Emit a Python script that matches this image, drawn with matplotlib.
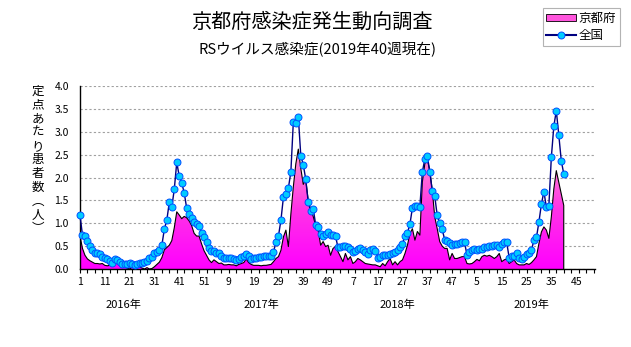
import numpy as np
import matplotlib
matplotlib.use('Agg')
import matplotlib.pyplot as plt
import matplotlib.transforms as mtransforms
from matplotlib.colors import LinearSegmentedColormap
from matplotlib.lines import Line2D
from matplotlib.patches import Patch

plt.rcParams['font.family'] = ['Noto Sans CJK JP', 'DejaVu Sans']

# ---- data (weekly values per sentinel site) ----
national_2016 = [1.17, 0.74, 0.72, 0.62, 0.50, 0.41, 0.36, 0.34, 0.32, 0.27, 0.24, 0.21, 0.17,
                 0.14, 0.22, 0.20, 0.16, 0.12, 0.10, 0.12, 0.14, 0.10, 0.09, 0.11, 0.14, 0.14,
                 0.16, 0.18, 0.23, 0.26, 0.34, 0.38, 0.41, 0.52, 0.87, 1.07, 1.46, 1.35, 1.74,
                 2.33, 2.03, 1.88, 1.67, 1.33, 1.20, 1.11, 1.03, 0.98, 0.93, 0.79, 0.71, 0.59]
national_2017 = [0.46, 0.39, 0.39, 0.36, 0.35, 0.29, 0.24, 0.23, 0.25, 0.25, 0.22, 0.20, 0.22,
                 0.26, 0.29, 0.33, 0.29, 0.22, 0.25, 0.25, 0.26, 0.27, 0.28, 0.29, 0.29, 0.29,
                 0.37, 0.59, 0.72, 1.07, 1.57, 1.65, 1.77, 2.12, 3.22, 3.20, 3.33, 2.48, 2.28,
                 1.96, 1.46, 1.27, 1.32, 0.97, 0.91, 0.76, 0.72, 0.77, 0.80, 0.75, 0.75, 0.72]
national_2018 = [0.47, 0.47, 0.51, 0.51, 0.47, 0.43, 0.38, 0.39, 0.43, 0.46, 0.41, 0.38, 0.33,
                 0.41, 0.43, 0.40, 0.25, 0.27, 0.30, 0.31, 0.31, 0.33, 0.36, 0.38, 0.41, 0.47,
                 0.55, 0.73, 0.79, 0.98, 1.34, 1.37, 1.37, 1.36, 2.12, 2.40, 2.47, 2.13, 1.71,
                 1.59, 1.17, 1.00, 0.87, 0.64, 0.61, 0.56, 0.52, 0.54, 0.55, 0.57, 0.58, 0.58]
national_2019 = [0.31, 0.38, 0.42, 0.44, 0.42, 0.44, 0.43, 0.47, 0.49, 0.50, 0.50, 0.52, 0.52,
                 0.47, 0.55, 0.60, 0.58, 0.25, 0.28, 0.29, 0.34, 0.23, 0.21, 0.27, 0.32, 0.34,
                 0.42, 0.63, 0.69, 1.03, 1.42, 1.69, 1.35, 1.38, 2.44, 3.12, 3.46, 2.93, 2.37,
                 2.08]

kyoto_2016 = [0.72, 0.45, 0.30, 0.22, 0.18, 0.15, 0.12, 0.12, 0.11, 0.12, 0.08, 0.07, 0.08,
              0.12, 0.18, 0.15, 0.08, 0.03, 0.05, 0.02, 0.00, 0.04, 0.06, 0.03, 0.05, 0.02,
              0.00, 0.03, 0.00, 0.01, 0.05, 0.10, 0.15, 0.25, 0.42, 0.47, 0.52, 0.62, 0.90,
              1.25, 1.18, 1.10, 1.15, 1.12, 1.05, 0.95, 0.78, 0.72, 0.72, 0.55, 0.40, 0.30]
kyoto_2017 = [0.20, 0.14, 0.20, 0.16, 0.12, 0.13, 0.09, 0.09, 0.10, 0.09, 0.09, 0.07, 0.10,
              0.12, 0.14, 0.22, 0.14, 0.10, 0.08, 0.08, 0.08, 0.07, 0.08, 0.08, 0.09, 0.10,
              0.16, 0.23, 0.27, 0.41, 0.70, 0.85, 0.49, 1.20, 1.80, 2.30, 2.62, 2.20, 1.85,
              1.95, 1.50, 1.30, 1.15, 0.95, 0.85, 0.52, 0.60, 0.49, 0.52, 0.30, 0.45, 0.49]
kyoto_2018 = [0.38, 0.27, 0.16, 0.34, 0.20, 0.27, 0.12, 0.16, 0.23, 0.20, 0.16, 0.12, 0.11,
              0.10, 0.09, 0.09, 0.07, 0.05, 0.12, 0.07, 0.16, 0.23, 0.09, 0.16, 0.09, 0.16,
              0.20, 0.34, 0.52, 0.78, 0.88, 0.63, 0.82, 0.74, 1.90, 2.30, 2.40, 2.15, 1.72,
              1.14, 0.88, 0.60, 0.50, 0.45, 0.45, 0.20, 0.34, 0.23, 0.23, 0.25, 0.27, 0.27]
kyoto_2019 = [0.12, 0.11, 0.12, 0.16, 0.21, 0.18, 0.27, 0.30, 0.28, 0.30, 0.27, 0.23, 0.27,
              0.34, 0.16, 0.20, 0.22, 0.12, 0.16, 0.20, 0.12, 0.09, 0.09, 0.09, 0.12, 0.10,
              0.14, 0.20, 0.27, 0.56, 0.81, 0.92, 0.85, 0.67, 1.14, 1.75, 2.15, 1.90, 1.64,
              1.39]

week_tick_labels = ['1', '11', '21', '31', '41', '51', '9', '19', '29', '39', '49',
                    '7', '17', '27', '37', '47', '5', '15', '25', '35', '45']
year_labels = ['2016年', '2017年', '2018年', '2019年']
year_label_pos = [17.5, 73.0, 128.0, 182.0]
y_ticks = [0.0, 0.5, 1.0, 1.5, 2.0, 2.5, 3.0, 3.5, 4.0]
series_names = ['京都府', '全国']
n_axis_weeks = 208

national = np.array(national_2016 + national_2017 + national_2018 + national_2019)
kyoto = np.array(kyoto_2016 + kyoto_2017 + kyoto_2018 + kyoto_2019)
x = np.arange(len(national))

# ---- figure ----
W, H = 631, 347
fig = plt.figure(figsize=(W / 100, H / 100), dpi=100)
ax = fig.add_axes([80 / W, 1 - 269 / H, 515 / W, 183 / H])

# gradient-filled area for Kyoto
cmap = LinearSegmentedColormap.from_list('pk', ['#FF00FF', '#FF33E6', '#FF99CC'])
grad = np.linspace(0, 1, 256).reshape(-1, 1)
im = ax.imshow(grad, extent=[x[0], x[-1], 0, kyoto.max()], origin='lower',
               aspect='auto', cmap=cmap, zorder=2, interpolation='bilinear')
poly = ax.fill_between(x, kyoto, 0, facecolor='none', edgecolor='none', zorder=2)
im.set_clip_path(poly.get_paths()[0], transform=ax.transData)
ax.plot(np.append(x, x[-1]), np.append(kyoto, 0), color='black', lw=0.8, zorder=3)

# national line
ax.plot(x, national, color='#000080', lw=1.0, marker='o', ms=5,
        mfc='#00CCFF', mec='#0050FF', mew=0.7, zorder=4, clip_on=False)

ax.set_xlim(0, n_axis_weeks - 0.4)
ax.set_ylim(0, 4)

ax.set_yticks(y_ticks)
ax.set_yticklabels([f'{v:.1f}' for v in y_ticks])
ax.tick_params(axis='y', length=0, pad=8, labelsize=7.5)
ax.yaxis.grid(True, color='#A0A0A0', linestyle=(0, (2, 2)), lw=0.8)
ax.set_axisbelow(True)

ax.xaxis.remove_overlapping_locs = False
ax.set_xticks(np.arange(0, n_axis_weeks, 3))
ax.tick_params(axis='x', which='major', length=3, width=0.8, labelbottom=False, direction='out')
ax.set_xticks(np.arange(0, len(week_tick_labels) * 10, 10), minor=True)
ax.set_xticklabels(week_tick_labels, minor=True)
ax.tick_params(axis='x', which='minor', length=0, pad=6, labelsize=7.5)

for s in ['top', 'right']:
    ax.spines[s].set_visible(False)
for s in ['left', 'bottom']:
    ax.spines[s].set_linewidth(1.0)
    ax.spines[s].set_color('black')

trans = mtransforms.blended_transform_factory(ax.transData, fig.transFigure)
for lab, pos in zip(year_labels, year_label_pos):
    ax.text(pos, 1 - 305 / H, lab, transform=trans, ha='center', va='center', fontsize=8)

fig.text(312 / W, 1 - 22 / H, '京都府感染症発生動向調査', ha='center', va='center', fontsize=14.5)
fig.text(317 / W, 1 - 50 / H, 'RSウイルス感染症(2019年40週現在)', ha='center', va='center', fontsize=10.5)

ylabel = '定点あたり患者数︵人︶'
fig.text(38 / W, 1 - 160 / H, '\n'.join(ylabel), ha='center', va='center',
         fontsize=9, linespacing=1.08)

handles = [Patch(facecolor='#FF55DD', edgecolor='black', lw=0.6),
           Line2D([], [], color='#000080', marker='o', ms=5, mfc='#00CCFF', mec='#0050FF', mew=0.7)]
leg = fig.legend(handles, series_names, loc='upper right', bbox_to_anchor=(620 / W, 1 - 8 / H),
                 frameon=True, fancybox=False, edgecolor='#A0A0A0', fontsize=9,
                 handlelength=2.4, handleheight=0.5, borderpad=0.3, labelspacing=0.35,
                 handletextpad=0.2, borderaxespad=0)
leg.get_frame().set_linewidth(0.8)

fig.savefig('out.png', dpi=100)
